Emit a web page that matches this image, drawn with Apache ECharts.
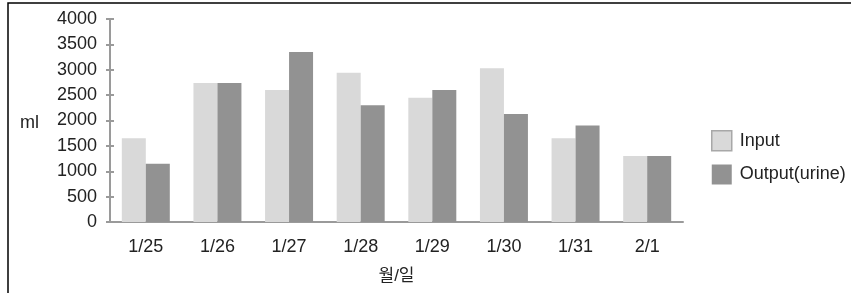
<!DOCTYPE html>
<html>
<head>
<meta charset="utf-8">
<script src="https://cdn.jsdelivr.net/npm/echarts@6/dist/echarts.min.js"></script>
<style>
  html, body { margin: 0; padding: 0; background: #fff; }
  #chart { width: 851px; height: 293px; }
</style>
</head>
<body>
<div id="chart"></div>
<script>
// 날짜
const categories = ['1/25', '1/26', '1/27', '1/28', '1/29', '1/30', '1/31', '2/1'];
const inputData = [1650, 2740, 2600, 2940, 2450, 3030, 1650, 1300];
const outputData = [1150, 2740, 3350, 2300, 2600, 2130, 1900, 1300];
const yTicks = [0, 500, 1000, 1500, 2000, 2500, 3000, 3500, 4000];

const font = '"Liberation Sans", "Noto Sans CJK KR", sans-serif';
const chart = echarts.init(document.getElementById('chart'));

const yBase = {
  type: 'value',
  min: yTicks[0],
  max: yTicks[yTicks.length - 1],
  interval: 500,
  axisLine: { show: true, lineStyle: { color: '#9a9a9a', width: 2 } },
  splitLine: { show: false },
};

chart.setOption({
  animation: false,
  textStyle: { fontFamily: font },
  grid: { left: 110, right: 168, top: 19, bottom: 71, outerBoundsMode: 'none' },
  legend: {
    orient: 'vertical',
    left: 706,
    top: 125,
    itemWidth: 20,
    itemHeight: 20,
    itemGap: 13,
    icon: 'rect',
    textStyle: { fontSize: 18, color: '#222', padding: [0, 0, 0, 3], fontFamily: font },
    data: [
      { name: 'Input', itemStyle: { borderColor: '#a8a8a8', borderWidth: 1.5 } },
      'Output(urine)',
    ],
  },
  xAxis: {
    type: 'category',
    data: categories,
    name: '월/일',
    nameLocation: 'middle',
    nameGap: 46,
    nameTextStyle: { fontSize: 17, color: '#222' },
    axisLine: { lineStyle: { color: '#9a9a9a', width: 2 } },
    axisTick: { show: false },
    axisLabel: { fontSize: 18, color: '#222', margin: 16 },
  },
  yAxis: [
    Object.assign({}, yBase, {
      axisTick: { show: true, length: 4, lineStyle: { color: '#9a9a9a', width: 2 } },
      axisLabel: { fontSize: 18, color: '#222', margin: 13, formatter: v => String(v) },
    }),
    Object.assign({}, yBase, {
      position: 'left',
      axisTick: { show: true, inside: true, length: 4, lineStyle: { color: '#9a9a9a', width: 2 } },
      axisLabel: { show: false },
    }),
  ],
  graphic: [
    {
      type: 'rect',
      shape: { x: 8, y: 3, width: 1000, height: 500 },
      style: { fill: 'none', stroke: '#000', lineWidth: 1.5 },
      silent: true,
    },
    {
      type: 'text',
      left: 20,
      top: 114,
      style: { text: 'ml', fontSize: 18, fill: '#222', fontFamily: font },
    },
  ],
  series: [
    {
      name: 'Input',
      type: 'bar',
      data: inputData,
      barGap: '0%',
      barCategoryGap: '33%',
      itemStyle: { color: '#d9d9d9' },
    },
    {
      name: 'Output(urine)',
      type: 'bar',
      data: outputData,
      itemStyle: { color: '#929292' },
    },
  ],
});
</script>
</body>
</html>
